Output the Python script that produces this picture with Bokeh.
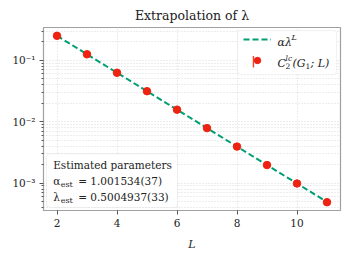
import numpy as np
from bokeh.plotting import figure
from bokeh.models import (Range1d, FixedTicker, Legend, LegendItem, Label,
                          BoxAnnotation)
from bokeh.embed import file_html
from bokeh.resources import INLINE

# ---- data ----
L_vals = [2, 3, 4, 5, 6, 7, 8, 9, 10, 11]
C_vals = [0.25088, 0.12556, 0.06284, 0.03145, 0.01574,
          0.007879, 0.003943, 0.001974, 0.000988, 0.000490]
alpha_est = 1.001534
lambda_est = 0.5004937
fit_L = [2, 11]
fit_vals = [alpha_est * lambda_est ** l for l in fit_L]

x_ticks = [2, 4, 6, 8, 10]
y_major = [0.1, 0.01, 0.001]
y_major_labels = ["10⁻¹", "10⁻²", "10⁻³"]
y_minor = [m * 10.0 ** e for e in (-4, -3, -2, -1) for m in range(2, 10)]

title_txt = "Extrapolation of λ"
box_title = "Estimated parameters"
box_syms = ["α", "λ"]
box_vals = ["= 1.001534(37)", "= 0.5004937(33)"]

SERIF = "DejaVu Serif"
GREEN = "#009e73"
RED = "#ee2211"
GRID = "#d0d0d0"
TXT = "#222222"

p = figure(width=343, height=253, output_backend="svg", toolbar_location=None,
           y_axis_type="log",
           x_range=Range1d(1.55, 11.45),
           y_range=Range1d(10 ** -3.445, 10 ** -0.465),
           min_border_left=43, min_border_right=3, min_border_top=26,
           min_border_bottom=38)

p.title.text = title_txt
p.title.align = "center"
p.title.text_font = SERIF
p.title.text_font_style = "normal"
p.title.text_font_size = "12.5px"
p.title.text_color = TXT

p.outline_line_color = "#a0a0a0"
p.outline_line_width = 1.2

# axes
p.xaxis.ticker = FixedTicker(ticks=x_ticks)
p.yaxis.ticker = FixedTicker(ticks=y_major, minor_ticks=y_minor)
p.yaxis.major_label_overrides = {v: s for v, s in zip(y_major, y_major_labels)}
for ax in (p.xaxis[0], p.yaxis[0]):
    ax.axis_line_color = None
    ax.major_tick_line_color = "#555555"
    ax.minor_tick_line_color = "#555555"
    ax.major_tick_out = 4
    ax.major_tick_in = 0
    ax.minor_tick_out = 2
    ax.minor_tick_in = 0
    ax.major_label_text_font = SERIF
    ax.major_label_text_font_size = "10.5px"
    ax.major_label_text_color = TXT
    ax.major_label_standoff = 4
p.xaxis.minor_tick_line_color = None
p.xaxis.axis_label = "L"
p.xaxis.axis_label_text_font = SERIF
p.xaxis.axis_label_text_font_style = "italic"
p.xaxis.axis_label_text_font_size = "11px"
p.xaxis.axis_label_standoff = 8
p.xaxis.axis_label_text_color = TXT

# grids
for g in (p.xgrid[0], p.ygrid[0]):
    g.grid_line_color = GRID
    g.grid_line_dash = [1, 2]
    g.grid_line_width = 0.8
p.ygrid.minor_grid_line_color = GRID
p.ygrid.minor_grid_line_dash = [1, 2]
p.ygrid.minor_grid_line_width = 0.8

# glyphs
fit_r = p.line(fit_L, fit_vals, line_color=GREEN, line_width=2,
               line_dash="6 3")
pts_r = p.scatter(L_vals, C_vals, size=7.5, fill_color=RED, line_color=RED)

# legend frame (drawn as a box so the math-like label pieces sit on top)
p.add_layout(BoxAnnotation(left=8.02, right=11.32, bottom=10 ** -1.234,
                           top=10 ** -0.512, fill_color="white",
                           fill_alpha=0.85, line_color="#cccccc",
                           line_width=1, border_radius=3))

legend = Legend(items=[LegendItem(label=" ", renderers=[fit_r]),
                       LegendItem(label=" ", renderers=[pts_r])],
                location="top_right", label_text_font_size="10px",
                glyph_width=28, glyph_height=16, label_standoff=9,
                label_width=56, padding=4, spacing=5, margin=4,
                border_line_color=None, background_fill_color=None)
p.add_layout(legend)

def lab(x, y, text, size="11px", style="italic", dx=0, dy=0, color=TXT,
        align="left"):
    p.add_layout(Label(x=x, y=y, x_offset=dx, y_offset=dy, text=text,
                       text_font=SERIF, text_font_size=size,
                       text_font_style=style, text_baseline="middle",
                       text_align=align, text_color=color))

# legend texts (math-like pieces)
lx = 9.35
ly1, ly2 = 10 ** -0.716, 10 ** -1.045
lab(lx, ly1, "αλ")
lab(lx, ly1, "L", size="8px", dx=14, dy=5)
lab(lx, ly2, "C")
lab(lx, ly2, "lc", size="7.5px", dx=8, dy=5)
lab(lx, ly2, "2", size="7.5px", style="normal", dx=8, dy=-3)
lab(lx, ly2, "(G", dx=15)
lab(lx, ly2, "1", size="7.5px", style="normal", dx=28, dy=-3)
lab(lx, ly2, "; L)", dx=33)
# error bar of the legend marker
lab(8.55, ly2, "|", size="11px", style="bold", color=RED, align="center",
    dy=2)

# parameter box
p.add_layout(BoxAnnotation(left=1.65, right=6.02, bottom=10 ** -3.398,
                           top=10 ** -2.52, fill_color="white",
                           fill_alpha=0.85, line_color="#cccccc",
                           line_width=1, border_radius=4))
tx = 1.873
ys = [10 ** -2.712, 10 ** -2.972, 10 ** -3.232]
lab(tx, ys[0], box_title, size="10.5px", style="normal")
for i in (0, 1):
    lab(tx, ys[i + 1], box_syms[i], size="10.5px", style="normal")
    lab(tx, ys[i + 1], "est", size="8px", style="normal", dx=7.5, dy=-3)
    lab(tx, ys[i + 1], box_vals[i], size="10.5px", style="normal", dx=25)

open("out.html", "w").write(file_html(p, INLINE))
